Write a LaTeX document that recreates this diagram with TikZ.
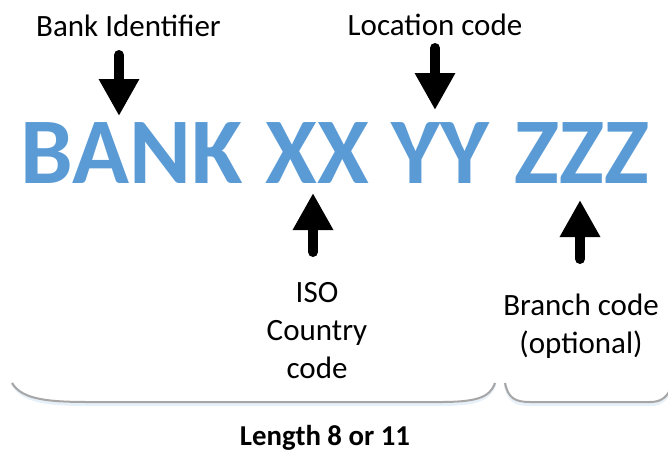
\documentclass[tikz,border=0pt]{standalone}
\usepackage{fontspec}
\setmainfont{Carlito}
\usetikzlibrary{arrows.meta}
\definecolor{swiftblue}{HTML}{5B9BD5}
\definecolor{bracegray}{HTML}{A6A6A6}

\begin{document}
\begin{tikzpicture}[x=1pt, y=-1pt,
  lbl/.style={font=\fontsize{31}{38}\selectfont, text=black, inner sep=0pt, align=center},
  part/.style={font=\fontsize{94}{94}\selectfont\bfseries, text=swiftblue, inner sep=0pt, anchor=base},
  fat/.style={line width=10pt, line cap=round, -{Triangle[width=38pt,length=37pt]}},
  bracket/.style={draw=bracegray, line width=2pt},
  glow/.style={draw=swiftblue!15, line width=3pt, yshift=-2.5pt}]
\useasboundingbox (0,0) rectangle (668,451);
% the code itself
\node[part] (bank) at (132,183) {BANK};
\node[part] (xx) at (317.5,183) {XX};
\node[part] (yy) at (440,183) {YY};
\node[part] (zzz) at (582,183) {ZZZ};
% labels
\node[lbl, anchor=base] (bankid) at (128.5,36) {Bank Identifier};
\node[lbl, anchor=base] (loc) at (435,35) {Location code};
\node[lbl] (iso) at (317,331) {ISO\\Country\\code};
\node[lbl] (branch) at (581,326) {Branch code\\(optional)};
\node[font=\fontsize{28.8}{30}\selectfont\bfseries, inner sep=0pt, anchor=base] (len) at (325,445) {Length 8 or 11};
% arrow ends
\coordinate (bankTail) at (119,55);  \coordinate (bankTip) at (119,116);
\coordinate (locTail) at (435,48);   \coordinate (locTip) at (435,110);
\coordinate (isoTail) at (313,252);  \coordinate (isoTip) at (313,193);
\coordinate (brTail) at (580,259);   \coordinate (brTip) at (580,200);
\draw[fat] (bankTail) -- (bankTip);
\draw[fat] (locTail) -- (locTip);
\draw[fat] (isoTail) -- (isoTip);
\draw[fat] (brTail) -- (brTip);
% brackets
\coordinate (b1a) at (12,383);  \coordinate (b1b) at (495,383);
\coordinate (b2a) at (505,383); \coordinate (b2b) at (670,390);
\draw[glow] (b1a) .. controls (22,400) and (50,402) .. (90,402) -- (440,402)
  .. controls (475,402) and (490,398) .. (b1b);
\draw[glow] (b2a) .. controls (508,398) and (515,402) .. (530,402) -- (650,402)
  .. controls (660,402) and (666,398) .. (b2b);
\draw[bracket] (b1a) .. controls (22,400) and (50,402) .. (90,402) -- (440,402)
  .. controls (475,402) and (490,398) .. (b1b);
\draw[bracket] (b2a) .. controls (508,398) and (515,402) .. (530,402) -- (650,402)
  .. controls (660,402) and (666,398) .. (b2b);
\end{tikzpicture}
\end{document}
